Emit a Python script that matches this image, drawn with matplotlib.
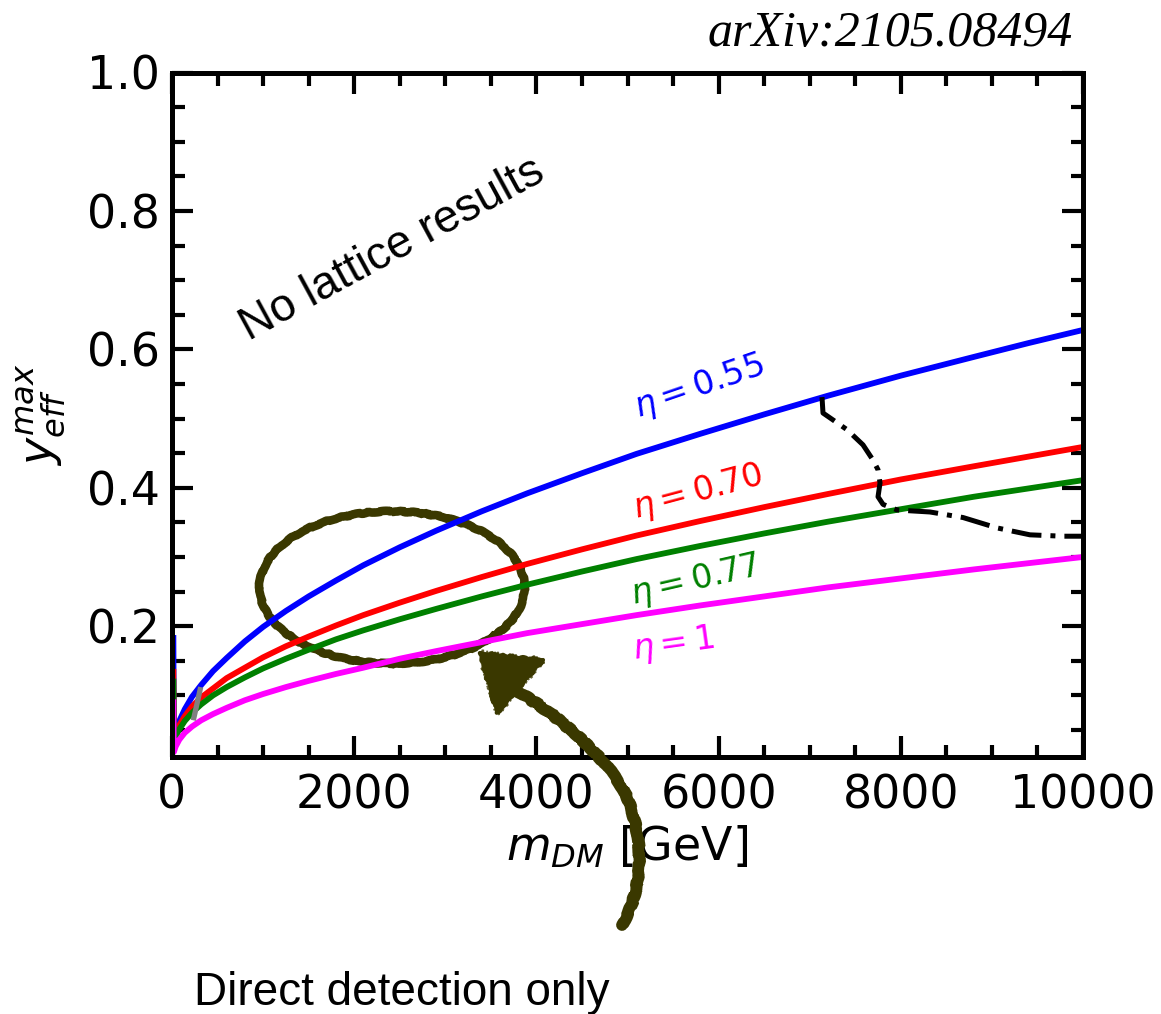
import matplotlib
matplotlib.use('Agg')
import matplotlib.pyplot as plt
from matplotlib.patches import Arc, Polygon, PathPatch
from matplotlib.path import Path
from matplotlib.ticker import MultipleLocator

# --- DADOS ---
m_dm = [15, 20, 40, 80, 140, 220, 320, 450, 600, 800, 1000, 1250, 1500, 1800,
        2100, 2500, 2900, 3400, 3900, 4500, 5100, 5800, 6500, 7200, 8000, 8800,
        9400, 10000]

y_055 = [0.183, 0.036, 0.048, 0.063, 0.080, 0.098, 0.115, 0.135, 0.154, 0.178,
         0.199, 0.222, 0.243, 0.266, 0.288, 0.314, 0.338, 0.366, 0.392, 0.421,
         0.449, 0.478, 0.506, 0.533, 0.562, 0.589, 0.609, 0.628]
y_070 = [0.134, 0.035, 0.044, 0.057, 0.070, 0.084, 0.097, 0.110, 0.125, 0.140,
         0.155, 0.171, 0.185, 0.201, 0.216, 0.234, 0.251, 0.271, 0.290, 0.311,
         0.331, 0.352, 0.372, 0.391, 0.412, 0.431, 0.445, 0.459]
y_077 = [0.120, 0.032, 0.040, 0.051, 0.063, 0.075, 0.087, 0.100, 0.112, 0.126,
         0.139, 0.153, 0.166, 0.181, 0.194, 0.210, 0.225, 0.243, 0.260, 0.279,
         0.297, 0.316, 0.334, 0.351, 0.369, 0.387, 0.399, 0.411]
y_100 = [0.090, 0.018, 0.026, 0.036, 0.046, 0.055, 0.064, 0.073, 0.082, 0.093,
         0.102, 0.112, 0.121, 0.131, 0.140, 0.153, 0.164, 0.177, 0.190, 0.203,
         0.216, 0.230, 0.243, 0.256, 0.269, 0.282, 0.291, 0.300]

eta_labels = [r'$\eta = 0.55$', r'$\eta = 0.70$', r'$\eta = 0.77$', r'$\eta = 1$']
eta_colors = ['#0000ff', '#ff0000', '#008000', '#ff00ff']

# fronteira (traço-ponto)
m_bound = [7135, 7146, 7223, 7409, 7585, 7695, 7750, 7772, 7750, 7805, 7958,
           8068, 8321, 8683, 9056, 9418, 9780, 10000]
y_bound = [0.531, 0.508, 0.501, 0.484, 0.462, 0.440, 0.426, 0.407, 0.387,
           0.376, 0.368, 0.367, 0.365, 0.357, 0.342, 0.332, 0.330, 0.330]

# pequeno segmento cinza
m_gray = [234, 315]
y_gray = [0.064, 0.112]

# --- FIGURA ---
W, H = 1161, 1014
fig = plt.figure(figsize=(W / 100, H / 100), dpi=100)
ax = fig.add_axes([172 / W, 1 - 757 / H, 911 / W, 684.5 / H])

def px(x, y):
    return (x / W, 1 - y / H)

for ys, c in zip([y_055, y_070, y_077, y_100], eta_colors):
    ax.plot(m_dm, ys, color=c, lw=4.2, solid_joinstyle='round')

ax.plot(m_gray, y_gray, color='#808080', lw=3.8, solid_capstyle='butt')
ax.plot(m_bound, y_bound, color='black', lw=3.6, dashes=(6, 1.8, 1, 1.8))

ax.set_xlim(0, 10000)
ax.set_ylim(0.011, 1.0)
ax.xaxis.set_major_locator(MultipleLocator(2000))
ax.xaxis.set_minor_locator(MultipleLocator(500))
ax.yaxis.set_minor_locator(MultipleLocator(0.05))
ax.set_yticks([0.2, 0.4, 0.6, 0.8, 1.0])
ax.set_yticklabels(['0.2', '0.4', '0.6', '0.8', '1.0'])

ax.tick_params(which='both', direction='in', top=True, right=True, width=3)
ax.tick_params(which='major', length=15, labelsize=33, pad=9)
ax.tick_params(which='minor', length=9)
ax.tick_params(axis='x', which='major', pad=12)
for s in ax.spines.values():
    s.set_linewidth(3.6)

ax.set_xlabel(r'$m_{DM}$ [GeV]', fontsize=33, labelpad=4)
ax.set_ylabel(r'$y_{eff}^{max}$', fontsize=33, labelpad=14)

# rótulos das curvas
eta_pos = [(5785, 0.546, 19), (5774, 0.394, 15), (5741, 0.266, 13), (5500, 0.173, 8)]
for lab, c, (xm, ym, rot) in zip(eta_labels, eta_colors, eta_pos):
    ax.text(xm, ym, lab, color=c, fontsize=24, rotation=rot,
            ha='center', va='center', rotation_mode='anchor')

ax.text(2415, 0.744, 'No lattice results', fontsize=33, rotation=28.5,
        family='Liberation Sans', ha='center', va='center', rotation_mode='anchor')

fig.text(*px(1073, 46), 'arXiv:2105.08494', fontsize=36, style='italic',
         family='Liberation Serif', ha='right', va='baseline')
fig.text(*px(402, 1005), 'Direct detection only', fontsize=33,
         family='Liberation Sans', ha='center', va='baseline')

# --- marcação à mão: elipse + seta ---
olive = '#3a3800'
# traço principal levemente ondulado + fiapos finos para a textura de giz
ell_strokes = [(6.2, 0.6, 30, 8, 1.0), (1.4, 2.8, 1.5, 2, 0.85), (1.0, 3.4, 1.2, 2, 0.7)]
for lw, sc, ln, rnd, a in ell_strokes:
    arc = Arc((2415, 0.256), 2910, 0.220, theta1=136, theta2=128,
              color=olive, lw=lw, alpha=a, clip_on=False)
    arc.set_sketch_params(sc, ln, rnd)
    ax.add_patch(arc)

verts = [px(622, 925), px(648, 880), px(640, 830), px(628, 800),
         px(615, 765), px(560, 715), px(512, 688)]
codes = [Path.MOVETO] + [Path.CURVE4] * 6
arrow_strokes = [(8.5, 0.8, 30, 8, 1.0), (2.0, 3.5, 1.5, 2, 0.85), (1.2, 4.5, 1.2, 2, 0.7)]
for lw, sc, ln, rnd, a in arrow_strokes:
    pp = PathPatch(Path(verts, codes), fill=False, ec=olive, lw=lw, alpha=a,
                   transform=fig.transFigure, capstyle='round')
    pp.set_sketch_params(sc, ln, rnd)
    fig.add_artist(pp)

head_xy = [px(480, 653), px(543, 660), px(497, 713)]
head = Polygon(head_xy, closed=True, fc=olive, ec=olive, lw=3,
               joinstyle='round', transform=fig.transFigure)
head.set_sketch_params(0.8, 20, 6)
fig.add_artist(head)
fuzz = Polygon(head_xy, closed=True, fill=False, ec=olive, lw=1.2, alpha=0.8,
               transform=fig.transFigure)
fuzz.set_sketch_params(3, 1.5, 2)
fig.add_artist(fuzz)

fig.savefig('out.png', dpi=100)
